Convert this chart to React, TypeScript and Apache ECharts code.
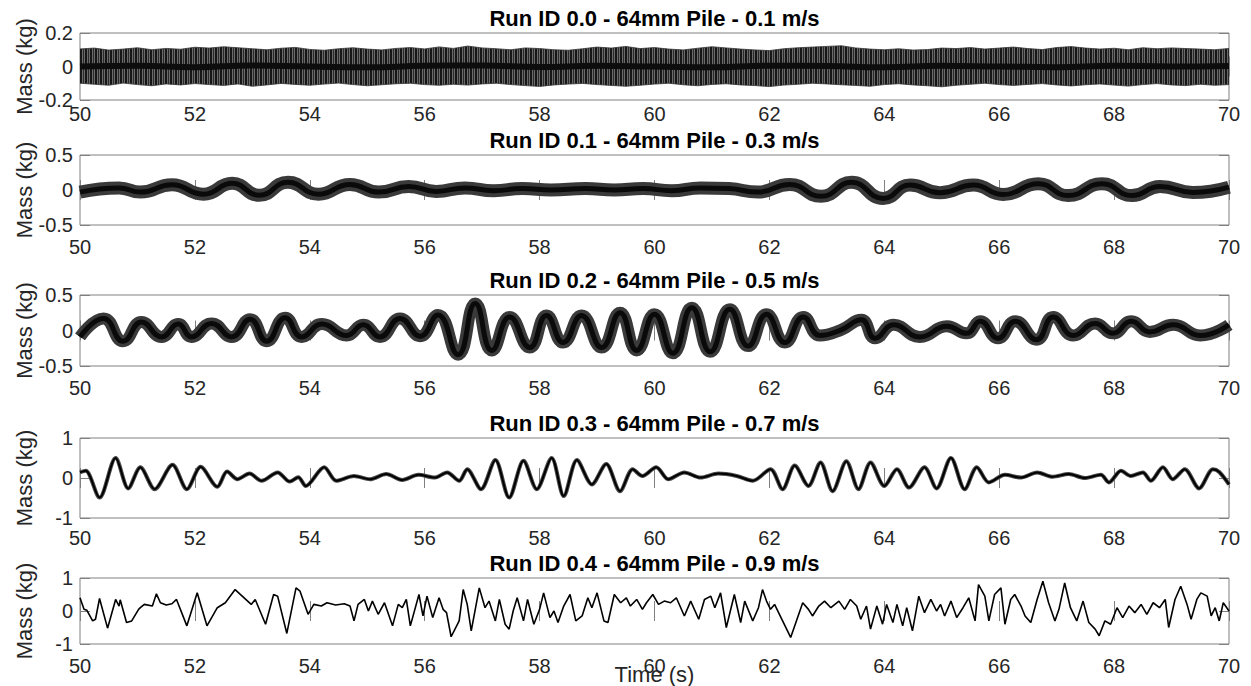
import React, { useEffect, useRef } from "react";
import * as echarts from "echarts";

const FONT = "'Liberation Sans', Arial, Helvetica, sans-serif";

const TITLES = [
  "Run ID 0.0 - 64mm Pile - 0.1 m/s",
  "Run ID 0.1 - 64mm Pile - 0.3 m/s",
  "Run ID 0.2 - 64mm Pile - 0.5 m/s",
  "Run ID 0.3 - 64mm Pile - 0.7 m/s",
  "Run ID 0.4 - 64mm Pile - 0.9 m/s",
];
const Y_LIMITS = [0.2, 0.5, 0.5, 1, 1];
const Y_INTERVALS = [0.2, 0.5, 0.5, 1, 1];
const X_MIN = 50;
const X_MAX = 70;
const X_INTERVAL = 2;
const Y_NAME = "Mass (kg)";
const X_NAME = "Time (s)";

// Run 0.0 : envelope of the dense oscillation, sampled every 0.25 s from 50 s
const RUN0_STEP = 0.25;
const RUN0_UPPER = [
  0.105, 0.11, 0.098, 0.104, 0.112, 0.1, 0.108, 0.103, 0.115, 0.11,
  0.118, 0.112, 0.106, 0.1, 0.109, 0.114, 0.102, 0.097, 0.106, 0.112,
  0.104, 0.099, 0.108, 0.113, 0.105, 0.117, 0.108, 0.122, 0.111, 0.106,
  0.1, 0.111, 0.107, 0.1, 0.097, 0.106, 0.116, 0.11, 0.12, 0.107,
  0.113, 0.104, 0.099, 0.109, 0.118, 0.111, 0.104, 0.099, 0.095, 0.106,
  0.112, 0.116, 0.12, 0.124, 0.111, 0.104, 0.1, 0.106, 0.098, 0.101,
  0.11, 0.107, 0.113, 0.104, 0.11, 0.116, 0.107, 0.101, 0.113, 0.119,
  0.11, 0.104, 0.109, 0.1, 0.112, 0.106, 0.111, 0.107, 0.104, 0.1, 0.108,
];
const RUN0_LOWER = [
  -0.1, -0.106, -0.112, -0.099, -0.108, -0.115, -0.104, -0.11, -0.102, -0.108,
  -0.113, -0.104, -0.118, -0.11, -0.101, -0.107, -0.112, -0.105, -0.099, -0.108,
  -0.115, -0.109, -0.103, -0.1, -0.108, -0.112, -0.106, -0.111, -0.104, -0.1,
  -0.108, -0.114, -0.119, -0.11, -0.105, -0.101, -0.108, -0.113, -0.118, -0.112,
  -0.105, -0.1, -0.109, -0.115, -0.107, -0.103, -0.11, -0.114, -0.12, -0.111,
  -0.106, -0.1, -0.104, -0.109, -0.113, -0.118, -0.108, -0.103, -0.11, -0.115,
  -0.121, -0.112, -0.106, -0.1, -0.108, -0.113, -0.107, -0.102, -0.11, -0.116,
  -0.109, -0.104, -0.111, -0.117, -0.108, -0.102, -0.11, -0.114, -0.106, -0.112, -0.108,
];
const RUN0_CENTER_STEP = 1;
const RUN0_CENTER = [
  0.0, 0.005, -0.004, 0.006, 0.0, -0.005, 0.004, 0.006, -0.003, 0.004, 0.0,
  -0.005, 0.005, 0.003, -0.004, 0.004, 0.0, -0.004, 0.005, 0.0, 0.003,
];

// Run 0.1 : centre of the thick trace at its turning points [time, mass]
const RUN1 = [
  [50.0, -0.03], [50.68, 0.03], [51.05, -0.03], [51.6, 0.075], [52.15, -0.06],
  [52.65, 0.095], [53.12, -0.075], [53.62, 0.11], [54.15, -0.06], [54.7, 0.08],
  [55.2, -0.03], [55.72, 0.05], [56.2, -0.02], [56.7, 0.03], [57.2, -0.01],
  [57.7, 0.02], [58.2, 0.0], [58.8, 0.02], [59.3, 0.0], [59.8, 0.02],
  [60.3, -0.01], [60.8, 0.03], [61.3, 0.02], [61.8, -0.03], [62.35, 0.08],
  [62.9, -0.09], [63.43, 0.11], [63.98, -0.12], [64.45, 0.07], [64.97, -0.04],
  [65.55, 0.07], [66.07, -0.065], [66.68, 0.09], [67.2, -0.08], [67.79, 0.09],
  [68.31, -0.08], [68.8, 0.05], [69.37, -0.035], [70.0, 0.04],
];

// Run 0.2
const RUN2 = [
  [50.0, -0.09], [50.41, 0.17], [50.75, -0.15], [51.07, 0.12], [51.42, -0.09],
  [51.71, 0.09], [51.94, -0.09], [52.29, 0.1], [52.64, -0.09], [52.96, 0.16],
  [53.25, -0.15], [53.57, 0.18], [53.86, -0.09], [54.21, 0.09], [54.64, -0.07],
  [54.93, 0.08], [55.22, -0.09], [55.57, 0.17], [55.92, -0.08], [56.23, 0.22],
  [56.58, -0.34], [56.88, 0.38], [57.17, -0.28], [57.48, 0.19], [57.83, -0.24],
  [58.12, 0.21], [58.41, -0.17], [58.73, 0.21], [59.08, -0.24], [59.4, 0.25],
  [59.69, -0.28], [60.0, 0.23], [60.32, -0.32], [60.65, 0.32], [60.97, -0.3],
  [61.31, 0.3], [61.63, -0.22], [61.95, 0.23], [62.27, -0.17], [62.59, 0.19],
  [62.88, -0.07], [63.25, 0.01], [63.6, 0.15], [63.84, -0.11], [64.16, 0.08],
  [64.62, -0.09], [65.09, 0.06], [65.43, -0.04], [65.67, 0.13], [65.98, -0.11],
  [66.28, 0.13], [66.65, -0.13], [66.94, 0.19], [67.29, -0.07], [67.67, 0.1],
  [67.98, -0.04], [68.3, 0.13], [68.62, -0.02], [69.03, 0.08], [69.5, -0.07],
  [70.0, 0.08],
];

// Run 0.3
const RUN3 = [
  [50.0, 0.14], [50.1, 0.18], [50.34, -0.49], [50.62, 0.5], [50.84, -0.26],
  [51.05, 0.27], [51.3, -0.28], [51.61, 0.33], [51.86, -0.28], [52.1, 0.28],
  [52.39, -0.22], [52.56, 0.16], [52.74, -0.03], [52.95, 0.11], [53.16, -0.07],
  [53.44, 0.14], [53.65, -0.09], [53.8, 0.02], [53.93, -0.2], [54.25, 0.27],
  [54.46, -0.07], [54.77, 0.05], [55.05, -0.03], [55.33, 0.1], [55.61, -0.05],
  [55.89, 0.08], [56.18, 0.01], [56.39, 0.14], [56.6, -0.07], [56.74, 0.22],
  [56.98, -0.28], [57.23, 0.45], [57.47, -0.49], [57.72, 0.43], [57.95, -0.28],
  [58.21, 0.5], [58.42, -0.45], [58.65, 0.45], [58.91, -0.16], [59.16, 0.35],
  [59.4, -0.33], [59.62, 0.22], [59.79, 0.05], [60.03, 0.27], [60.24, -0.03],
  [60.52, 0.14], [60.8, 0.01], [61.11, 0.11], [61.43, 0.05], [61.71, -0.07],
  [62.02, 0.22], [62.23, -0.28], [62.44, 0.31], [62.68, -0.2], [62.89, 0.39],
  [63.1, -0.33], [63.34, 0.42], [63.55, -0.28], [63.76, 0.39], [64.0, -0.2],
  [64.22, 0.22], [64.43, -0.24], [64.7, 0.27], [64.91, -0.26], [65.16, 0.5],
  [65.4, -0.28], [65.61, 0.27], [65.82, -0.11], [66.1, 0.08], [66.38, 0.01],
  [66.66, 0.14], [66.93, 0.03], [67.21, 0.1], [67.49, 0.0], [67.77, 0.08],
  [67.91, -0.11], [68.12, 0.18], [68.29, 0.05], [68.5, 0.14], [68.64, -0.07],
  [68.85, 0.27], [69.02, -0.03], [69.23, 0.22], [69.48, -0.26], [69.72, 0.22],
  [69.83, 0.15], [70.0, -0.16],
];

// Run 0.4
const RUN4 = [
  [50.0, 0.4], [50.07, 0.05], [50.12, 0.02], [50.22, -0.3], [50.27, -0.25],
  [50.34, 0.38], [50.48, -0.52], [50.62, 0.35], [50.68, 0.15], [50.7, 0.34],
  [50.81, -0.35], [50.9, -0.3], [51.02, 0.05], [51.05, 0.1], [51.12, 0.2],
  [51.26, 0.15], [51.33, 0.52], [51.4, 0.25], [51.5, 0.18], [51.6, 0.22],
  [51.68, 0.35], [51.86, -0.45], [52.04, 0.55], [52.21, -0.45], [52.39, 0.1],
  [52.53, 0.25], [52.7, 0.65], [52.98, 0.2], [53.05, 0.35], [53.23, -0.4],
  [53.37, 0.5], [53.44, 0.45], [53.6, -0.68], [53.76, 0.7], [53.83, 0.6],
  [53.97, -0.1], [54.07, 0.2], [54.2, 0.15], [54.3, 0.25], [54.45, 0.18],
  [54.6, 0.22], [54.7, 0.15], [54.77, -0.3], [54.84, 0.2], [54.95, 0.35],
  [55.02, 0.0], [55.09, 0.3], [55.19, -0.1], [55.3, 0.25], [55.44, -0.45],
  [55.54, 0.2], [55.61, 0.1], [55.68, 0.35], [55.75, -0.45], [55.9, 0.5],
  [55.97, -0.15], [56.04, 0.45], [56.14, -0.2], [56.25, 0.4], [56.32, 0.05],
  [56.38, -0.05], [56.46, -0.78], [56.6, -0.3], [56.67, 0.65], [56.74, 0.2],
  [56.81, -0.6], [56.95, 0.7], [57.05, 0.1], [57.12, 0.3], [57.23, -0.3],
  [57.3, 0.35], [57.4, -0.4], [57.47, -0.55], [57.54, 0.0], [57.61, 0.4],
  [57.72, -0.3], [57.79, 0.35], [57.9, -0.4], [58.0, 0.05], [58.07, 0.55],
  [58.18, -0.2], [58.25, 0.0], [58.32, -0.35], [58.42, 0.15], [58.53, 0.5],
  [58.63, -0.3], [58.74, -0.15], [58.84, 0.4], [58.91, 0.1], [59.0, 0.55],
  [59.12, -0.3], [59.19, -0.35], [59.3, 0.5], [59.41, 0.25], [59.51, 0.4],
  [59.58, 0.15], [59.69, 0.35], [59.79, 0.05], [59.86, 0.25], [59.97, 0.5],
  [60.07, 0.2], [60.17, 0.3], [60.28, 0.25], [60.38, 0.4], [60.52, -0.15],
  [60.63, 0.3], [60.77, -0.25], [60.87, 0.35], [60.98, 0.45], [61.05, 0.1],
  [61.15, 0.55], [61.25, -0.5], [61.39, 0.5], [61.5, -0.35], [61.57, 0.3],
  [61.71, -0.3], [61.81, 0.1], [61.88, 0.65], [61.95, 0.3], [62.02, 0.05],
  [62.09, 0.2], [62.23, -0.3], [62.37, -0.8], [62.47, -0.3], [62.58, 0.25],
  [62.68, 0.05], [62.75, -0.15], [62.86, 0.15], [62.96, 0.3], [63.07, 0.1],
  [63.21, 0.3], [63.31, 0.05], [63.41, 0.35], [63.52, 0.15], [63.59, -0.25],
  [63.69, 0.15], [63.76, -0.55], [63.87, 0.15], [63.97, -0.4], [64.04, 0.2],
  [64.15, -0.35], [64.22, 0.2], [64.32, -0.45], [64.39, 0.1], [64.49, -0.6],
  [64.6, 0.45], [64.7, -0.05], [64.81, 0.35], [64.91, 0.0], [64.98, 0.2],
  [65.05, -0.15], [65.16, 0.3], [65.26, -0.2], [65.37, 0.1], [65.47, 0.4],
  [65.58, -0.3], [65.64, 0.8], [65.75, 0.45], [65.82, -0.3], [65.92, 0.5],
  [66.03, 0.7], [66.1, -0.4], [66.2, 0.35], [66.27, 0.5], [66.38, 0.15],
  [66.45, -0.15], [66.55, -0.35], [66.66, 0.35], [66.76, 0.9], [66.86, 0.25],
  [66.97, -0.3], [67.04, 0.05], [67.14, 0.85], [67.24, 0.1], [67.35, -0.3],
  [67.46, 0.3], [67.56, -0.35], [67.67, -0.55], [67.74, -0.75], [67.84, -0.3],
  [67.94, -0.4], [68.05, 0.1], [68.15, -0.2], [68.26, 0.15], [68.36, -0.05],
  [68.47, 0.2], [68.57, -0.1], [68.68, 0.25], [68.79, 0.1], [68.89, 0.35],
  [68.95, -0.5], [69.06, 0.35], [69.16, 0.75], [69.27, 0.2], [69.34, -0.25],
  [69.44, 0.35], [69.51, 0.55], [69.62, 0.45], [69.69, -0.15], [69.76, 0.1],
  [69.83, -0.3], [69.9, 0.25], [69.94, 0.15], [70.0, 0.0],
];

// layout (pixels)
const PLOT_LEFT = 80;
const PLOT_RIGHT = 1229;
const PANEL_TOPS = [33, 155, 295, 438, 578];
const PANEL_HEIGHTS = [67, 70, 71, 80, 66];
const X_LABEL_MARGINS = [4, 12, 12, 10, 12];

const FRAME = "#808080";
const TEXT = "#262626";

// vertical hatch texture used for the very dense trace of run 0.0
const HATCH_SVG =
  '<svg xmlns="http://www.w3.org/2000/svg" width="5" height="8">' +
  '<rect width="5" height="8" fill="#6a6a6a"/>' +
  '<rect x="0" width="2" height="8" fill="#161616"/>' +
  '<rect x="3" width="1" height="8" fill="#2a2a2a"/></svg>';
const HATCH = {
  image: "data:image/svg+xml;charset=utf-8," + encodeURIComponent(HATCH_SVG),
  repeat: "repeat",
};

function buildOption() {
  const grids: any[] = [];
  const xAxes: any[] = [];
  const yAxes: any[] = [];
  const titles: any[] = [];
  for (let i = 0; i < 5; i++) {
    grids.push({
      left: PLOT_LEFT,
      width: PLOT_RIGHT - PLOT_LEFT,
      top: PANEL_TOPS[i],
      height: PANEL_HEIGHTS[i],
      containLabel: false,
      outerBoundsMode: "none",
      show: true,
      borderColor: FRAME,
      borderWidth: 1,
      backgroundColor: "#fff",
    });
    const common = {
      type: "value",
      gridIndex: i,
      min: X_MIN,
      max: X_MAX,
      interval: X_INTERVAL,
      splitLine: { show: false },
      axisLine: { show: false },
      axisTick: { show: true, inside: true, length: 10, lineStyle: { color: FRAME } },
    };
    xAxes.push({
      ...common,
      position: "bottom",
      axisLabel: {
        margin: X_LABEL_MARGINS[i],
        fontSize: 20,
        color: TEXT,
        fontFamily: FONT,
        showMinLabel: true,
        showMaxLabel: true,
      },
      ...(i === 4
        ? {
            name: X_NAME,
            nameLocation: "middle",
            nameGap: 19,
            nameMoveOverlap: false,
            nameTextStyle: { fontSize: 22, lineHeight: 22, color: TEXT, fontFamily: FONT },
          }
        : {}),
    });
    xAxes.push({ ...common, position: "top", axisLabel: { show: false } });
    const ycommon = {
      type: "value",
      gridIndex: i,
      min: -Y_LIMITS[i],
      max: Y_LIMITS[i],
      interval: Y_INTERVALS[i],
      splitLine: { show: false },
      axisLine: { show: false },
      axisTick: { show: true, inside: true, length: 10, lineStyle: { color: FRAME } },
    };
    yAxes.push({
      ...ycommon,
      position: "left",
      axisLabel: { margin: 7, fontSize: 20, color: TEXT, fontFamily: FONT },
      name: Y_NAME,
      nameLocation: "middle",
      nameGap: 45,
      nameMoveOverlap: false,
      nameTextStyle: { fontSize: 22, color: TEXT, fontFamily: FONT },
    });
    yAxes.push({ ...ycommon, position: "right", axisLabel: { show: false } });
    titles.push({
      text: TITLES[i],
      left: (PLOT_LEFT + PLOT_RIGHT) / 2,
      top: PANEL_TOPS[i] - 26,
      textAlign: "center",
      padding: 0,
      textStyle: { fontSize: 22, fontWeight: "bold", color: "#000", fontFamily: FONT },
    });
  }

  const line = (g: number, data: any[], width: number, color: string, smooth: any, extra: any = {}) => ({
    type: "line",
    xAxisIndex: g * 2,
    yAxisIndex: g * 2,
    data,
    symbol: "none",
    showSymbol: false,
    smooth,
    silent: true,
    lineStyle: { width, color },
    ...extra,
  });

  const upper0 = RUN0_UPPER.map((v, k) => [X_MIN + k * RUN0_STEP, v]);
  const lower0 = RUN0_LOWER.map((v, k) => [X_MIN + k * RUN0_STEP, v]);
  const center0 = RUN0_CENTER.map((v, k) => [X_MIN + k * RUN0_CENTER_STEP, v]);

  const series: any[] = [
    line(0, upper0, 0.8, "#333", false, { areaStyle: { color: HATCH, opacity: 1, origin: 0 } }),
    line(0, lower0, 0.8, "#333", false, { areaStyle: { color: HATCH, opacity: 1, origin: 0 } }),
    line(0, center0, 6, "#0d0d0d", true),
    line(1, RUN1, 13, "#3a3a3a", true),
    line(1, RUN1, 5, "#0a0a0a", true),
    line(2, RUN2, 12, "#3a3a3a", 0.5),
    line(2, RUN2, 5, "#0a0a0a", 0.5),
    line(3, RUN3, 4, "#4a4a4a", 0.3),
    line(3, RUN3, 2, "#000", 0.3),
    line(4, RUN4, 1.6, "#000", false),
  ];

  return {
    animation: false,
    backgroundColor: "#fff",
    title: titles,
    grid: grids,
    xAxis: xAxes,
    yAxis: yAxes,
    series,
  };
}

export default function App() {
  const ref = useRef<HTMLDivElement>(null);
  useEffect(() => {
    if (!ref.current) return;
    const chart = echarts.init(ref.current, undefined, { renderer: "svg" });
    chart.setOption(buildOption() as any);
    return () => chart.dispose();
  }, []);
  return (
    <div
      ref={ref}
      style={{ position: "fixed", left: 0, top: 0, width: 1251, height: 686, background: "#fff" }}
    />
  );
}
